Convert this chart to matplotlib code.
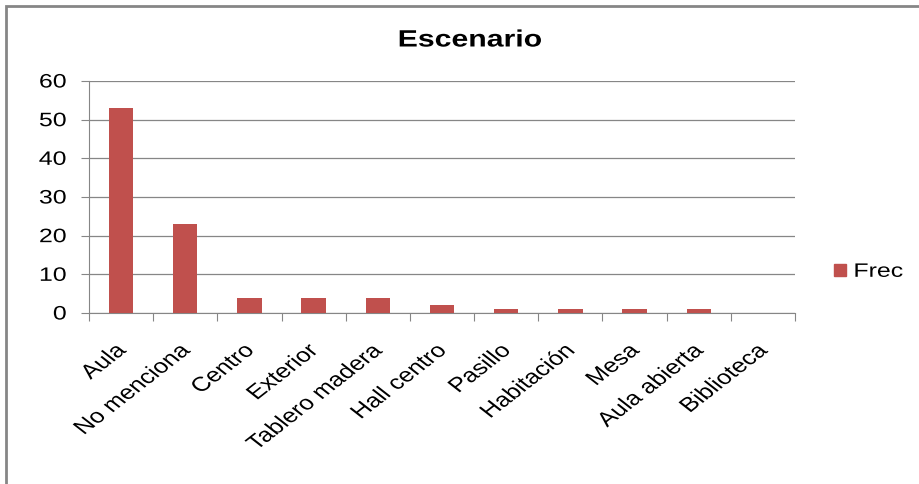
import matplotlib.pyplot as plt
import matplotlib.lines as mlines
from matplotlib.patheffects import AbstractPathEffect
from matplotlib.transforms import Affine2D, ScaledTranslation
import numpy as np

categories = ["Aula", "No menciona", "Centro", "Exterior", "Tablero madera",
              "Hall centro", "Pasillo", "Habitación", "Mesa", "Aula abierta",
              "Biblioteca"]
frec = [53, 23, 4, 4, 4, 2, 1, 1, 1, 1, 0]

plt.rcParams["font.family"] = ["Liberation Sans", "DejaVu Sans"]

STRETCH = 1.28  # the source image is widened horizontally


class Stretch(AbstractPathEffect):
    """Widen a text horizontally around its anchor point."""

    def __init__(self, text, sx=STRETCH):
        super().__init__()
        self.text = text
        self.sx = sx

    def draw_path(self, renderer, gc, tpath, affine, rgbFace=None):
        x0, y0 = self.text.get_transform().transform(
            self.text.get_unitless_position())
        st = Affine2D().translate(-x0, -y0).scale(self.sx, 1).translate(x0, y0)
        renderer.draw_path(gc, tpath, affine + st, rgbFace)


def widen(texts):
    for t in texts:
        t.set_path_effects([Stretch(t)])


fig = plt.figure(figsize=(9.19, 4.84), dpi=100)
ax = fig.add_axes([89 / 919, 1 - 313 / 484, 706 / 919, 232 / 484])

x = np.arange(len(categories))
ax.bar(x, frec, width=0.38, color="#C0504D", zorder=3, label="Frec")

ax.set_xlim(-0.5, len(categories) - 0.5)
ax.set_ylim(0, 60)
ax.set_yticks(range(0, 61, 10))
ax.yaxis.grid(True, color="#868686", linewidth=0.9, zorder=0)

ax.set_xticks(np.arange(-0.5, len(categories), 1.0))
ax.set_xticklabels([])
ax.set_xticks(x, minor=True)
ax.set_xticklabels(categories, minor=True, rotation=45, ha="right",
                   rotation_mode="anchor", fontsize=14.5)
ax.tick_params(axis="x", which="minor", length=0, pad=20)
ax.tick_params(axis="x", which="major", length=6, color="#868686")
ax.tick_params(axis="y", length=6, color="#868686", labelsize=14, pad=10)

for side in ["top", "right"]:
    ax.spines[side].set_visible(False)
for side in ["left", "bottom"]:
    ax.spines[side].set_color("#868686")

# nudge the rotated category labels a bit to the left
shift = ScaledTranslation(-5.5 / 72, 0, fig.dpi_scale_trans)
for lbl in ax.get_xticklabels(minor=True):
    lbl.set_transform(lbl.get_transform() + shift)

widen(ax.get_xticklabels(minor=True))
widen(ax.get_yticklabels())

title = fig.text(470 / 919, 1 - 40 / 484, "Escenario", ha="center",
                 va="center", fontsize=17, fontweight="bold")
widen([title])

handle = mlines.Line2D([], [], marker="s", linestyle="none", color="#C0504D",
                       markersize=9)
leg = fig.legend([handle], ["Frec"], loc="center left",
                 bbox_to_anchor=(832 / 919, 1 - 272 / 484), frameon=False,
                 fontsize=14, handlelength=0.8, handletextpad=0.3,
                 borderaxespad=0, borderpad=0)
widen(leg.get_texts())

frame = plt.Rectangle((6 / 919, -0.1), 1.1, 1 - 6 / 484 + 0.1,
                      transform=fig.transFigure, fill=False,
                      edgecolor="#868686", linewidth=2)
fig.patches.append(frame)

fig.savefig("out.png", dpi=100)
